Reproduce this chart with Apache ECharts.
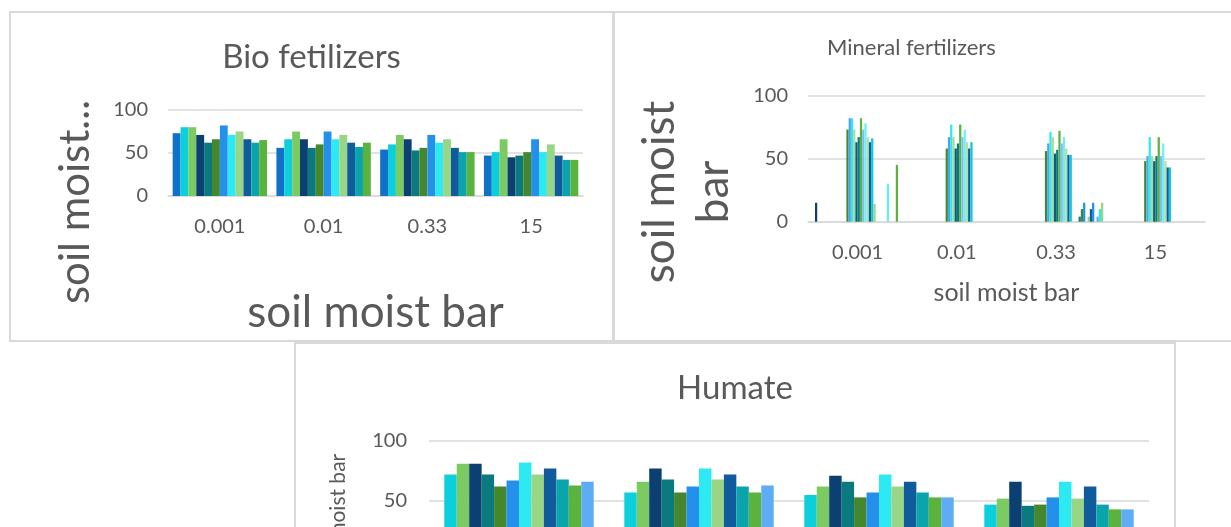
<!DOCTYPE html>
<html>
<head>
<meta charset="utf-8">
<script src="https://cdn.jsdelivr.net/npm/echarts@6/dist/echarts.min.js"></script>
<style>
html,body{margin:0;padding:0;background:#fff;width:1231px;height:527px;overflow:hidden;position:relative;}
.panel{position:absolute;box-sizing:border-box;border:2px solid #d9d9d9;background:#fff;}
</style>
</head>
<body>
<div id="bio" class="panel" style="left:9px;top:11px;width:605px;height:331px"></div>
<div id="mineral" class="panel" style="left:613px;top:11px;width:650px;height:331px"></div>
<div id="humate" class="panel" style="left:294px;top:342px;width:882px;height:300px"></div>
<script>
// ---------- data ----------
const categories = ['0.001', '0.01', '0.33', '15'];

// Bio fetilizers: 12 series, one array per category
const bio_0001 = [73, 80, 80, 71, 62, 66, 82, 71, 75, 66, 62, 65];
const bio_001  = [56, 66, 75, 66, 56, 60, 75, 66, 71, 62, 57, 62];
const bio_033  = [54, 60, 71, 66, 53, 56, 71, 62, 66, 56, 51, 51];
const bio_15   = [47, 51, 66, 45, 47, 51, 66, 51, 60, 47, 42, 42];

// Humate: 12 series, one array per category
const hum_0001 = [72, 81, 81, 72, 62, 67, 82, 72, 77, 68, 63, 66];
const hum_001  = [57, 66, 77, 68, 57, 62, 77, 68, 72, 62, 57, 63];
const hum_033  = [55, 62, 71, 66, 53, 57, 72, 62, 66, 57, 53, 53];
const hum_15   = [47, 52, 66, 46, 47, 53, 66, 52, 62, 47, 43, 43];

// Mineral fertilizers: 42 series, one array per category
const min_0001 = [0,0,15,0,0,0,0,0,0,0,0,0,0,0,0,0,
                  73,82,82,73,63,67,82,73,78,67,63,66,14,
                  0,0,0,0,0,30,0,0,0,45,0,0,0];
const min_001  = [0,0,0,0,0,0,0,0,0,0,0,0,0,0,0,0,
                  58,67,77,67,58,62,77,67,73,63,58,63,0,
                  0,0,0,0,0,0,0,0,0,0,0,0,0];
const min_033  = [0,0,0,0,0,0,0,0,0,0,0,0,0,0,0,0,
                  56,62,71,67,54,57,72,62,67,58,53,53,0,
                  0,0,4,10,15,0,4,10,15,0,4,10,15];
const min_15   = [0,0,0,0,0,0,0,0,0,0,0,0,0,0,0,0,
                  48,52,67,52,48,52,67,52,62,48,43,43,0,
                  0,0,0,0,0,0,0,0,0,0,0,0,0];

// ---------- styles ----------
const bioColors = ['#1170c8','#0dcfdc','#7ccb62','#0c3f72','#0a7a7e','#45872c','#2590ec','#2ce9f2','#98d584','#0f5b9c','#0aa5ac','#5bb23c'];
const humColors = ['#0dcfdc','#7ccb62','#0c3f72','#0a7a7e','#45872c','#2590ec','#2ce9f2','#98d584','#0f5b9c','#0aa5ac','#5bb23c','#5eacf4'];
const minColors = ['#1170c8','#0dcfdc','#0c3f72','#7ccb62','#0a7a7e','#45872c','#2590ec','#2ce9f2','#98d584','#0f5b9c','#0aa5ac','#5bb23c','#5eacf4','#0dcfdc','#7ccb62','#0c3f72',
                   '#45872c','#4da3f0','#2ce9f2','#a6dc92','#0c5a8a','#0a7a7e','#5bb23c','#7fbdf5','#6cf0f5','#b2e0a0','#0f5b9c','#0dc8e0','#98d584',
                   '#0a7a7e','#45872c','#0a7a7e','#45872c','#2590ec','#5ff0f6','#98d584','#0f5b9c','#2590ec','#5bb23c','#5eacf4','#2ce9f2','#98d584'];

const FONT = 'Lato, "Open Sans", sans-serif';
const TXT = '#595959';
const GRID = '#d9d9d9';

function buildSeries(rows, colors, gap) {
  const n = rows[0].length;
  const out = [];
  for (let i = 0; i < n; i++) {
    out.push({
      type: 'bar',
      name: 'Series ' + (i + 1),
      data: rows.map(r => r[i]),
      barGap: '0%',
      barCategoryGap: gap,
      itemStyle: { color: colors[i % colors.length] },
      silent: true
    });
  }
  return out;
}

function axes(o) {
  return {
    xAxis: {
      type: 'category', data: categories,
      name: o.xName, nameLocation: 'middle', nameGap: o.xNameGap,
      nameTextStyle: { color: TXT, fontSize: o.xNameSize, fontFamily: FONT },
      axisLine: { lineStyle: { color: GRID, width: 1.5 } },
      axisTick: { show: false },
      axisLabel: { color: TXT, fontSize: o.labelSize, fontFamily: FONT, margin: o.xMargin }
    },
    yAxis: {
      type: 'value', min: 0, max: 100, interval: 50,
      axisLine: { show: false }, axisTick: { show: false },
      splitLine: { lineStyle: { color: GRID, width: 1.5 } },
      axisLabel: { color: TXT, fontSize: o.labelSize, fontFamily: FONT, margin: o.yMargin }
    }
  };
}

function yName(text, x, y, size, lh) {
  return {
    type: 'text', x: x, y: y, rotation: Math.PI / 2, silent: true,
    style: { text: text, fill: TXT, font: size + 'px ' + FONT, fontSize: size, fontFamily: FONT,
             align: 'center', verticalAlign: 'middle', textAlign: 'center', textVerticalAlign: 'middle',
             lineHeight: lh || size }
  };
}

// ---------- Bio ----------
const bio = echarts.init(document.getElementById('bio'), null, { renderer: 'canvas' });
bio.setOption(Object.assign({
  animation: false,
  textStyle: { fontFamily: FONT },
  title: { text: 'Bio fetilizers', left: 'center', top: 28, padding: 0,
           textStyle: { color: TXT, fontSize: 33, fontWeight: 'normal', fontFamily: FONT } },
  grid: { left: 157, right: 29, top: 97, bottom: 144, containLabel: false },
  graphic: [ yName('soil moist...', 64, 189, 42) ],
  series: buildSeries([bio_0001, bio_001, bio_033, bio_15], bioColors, '9%')
}, axes({ xName: 'soil moist bar', xNameGap: 95, xNameSize: 44, labelSize: 20, xMargin: 21, yMargin: 20 })));

// ---------- Mineral ----------
const mineral = echarts.init(document.getElementById('mineral'), null, { renderer: 'canvas' });
mineral.setOption(Object.assign({
  animation: false,
  textStyle: { fontFamily: FONT },
  title: { text: 'Mineral fertilizers', left: 212, top: 24, padding: 0,
           textStyle: { color: TXT, fontSize: 22, fontWeight: 'normal', fontFamily: FONT } },
  grid: { left: 193, right: 56, top: 82.5, bottom: 118.3, containLabel: false },
  graphic: [ yName('soil moist\nbar', 72, 179, 44, 54) ],
  series: buildSeries([min_0001, min_001, min_033, min_15], minColors, '5%')
}, axes({ xName: 'soil moist bar', xNameGap: 59, xNameSize: 25, labelSize: 20, xMargin: 21, yMargin: 20 })));

// ---------- Humate ----------
const humate = echarts.init(document.getElementById('humate'), null, { renderer: 'canvas' });
humate.setOption(Object.assign({
  animation: false,
  textStyle: { fontFamily: FONT },
  title: { text: 'Humate', left: 'center', top: 28, padding: 0,
           textStyle: { color: TXT, fontSize: 33, fontWeight: 'normal', fontFamily: FONT } },
  grid: { left: 133, right: 25, top: 97, bottom: 79, containLabel: false },
  graphic: [ yName('soil moist bar', 42, 171, 21) ],
  series: buildSeries([hum_0001, hum_001, hum_033, hum_15], humColors, '17%')
}, axes({ xName: 'soil moist bar', xNameGap: 30, xNameSize: 21, labelSize: 20, xMargin: 21, yMargin: 22 })));
</script>
</body>
</html>
